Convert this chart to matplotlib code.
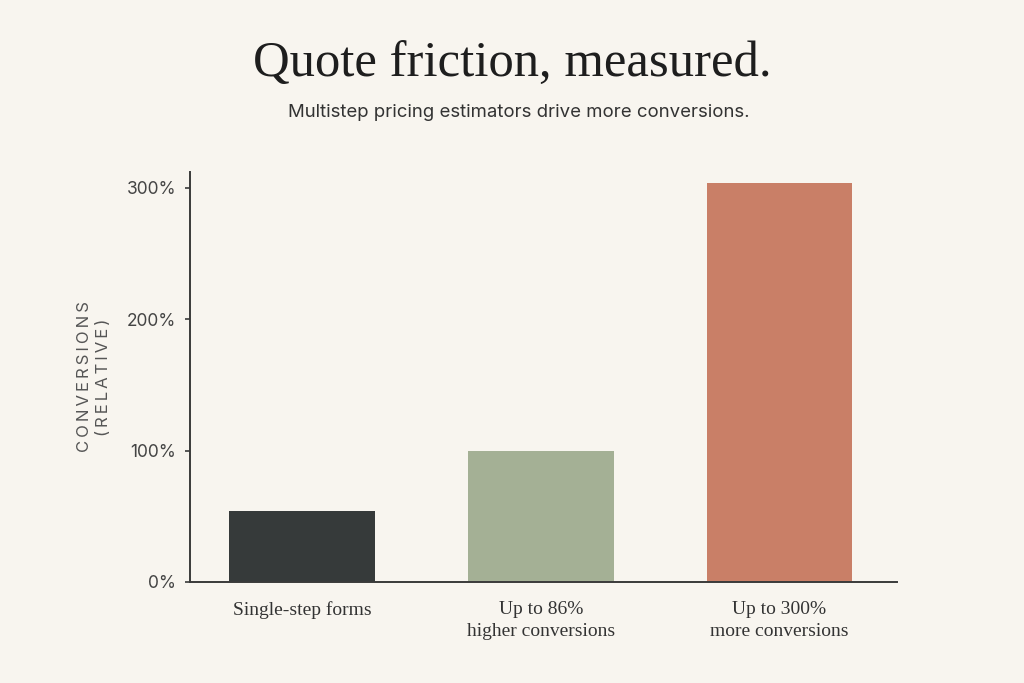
import matplotlib.pyplot as plt
from matplotlib.ticker import FuncFormatter

categories = ["Single-step forms", "Up to 86%\nhigher conversions", "Up to 300%\nmore conversions"]
values = [54, 100, 304]
colors = ["#363a3a", "#a4b095", "#c97f67"]
yticks = [0, 100, 200, 300]

bg = "#f8f5ef"


def spaced(s):
    # rough letter spacing with thin spaces
    return "\u2009".join(s)


fig = plt.figure(figsize=(10.24, 6.83), dpi=100, facecolor=bg)
ax = fig.add_axes([0.1855, 0.148, 0.690, 0.600], facecolor=bg)

x = range(len(values))
ax.bar(x, values, width=0.61, color=colors, zorder=2)

ax.set_xlim(-0.47, 2.49)
ax.set_ylim(0, 312)
ax.set_yticks(yticks)
ax.yaxis.set_major_formatter(FuncFormatter(lambda v, p: f"{v:.0f}%"))
ax.set_xticks(list(x))
ax.set_xticklabels(categories, family=["Liberation Serif"], fontsize=14, color="#333333",
                   linespacing=1.38, va="top")

for s in ["top", "right"]:
    ax.spines[s].set_visible(False)
for s in ["left", "bottom"]:
    ax.spines[s].set_color("#3a3a3a")
    ax.spines[s].set_linewidth(1.4)
ax.tick_params(axis="x", length=0, pad=14)
ax.tick_params(axis="y", length=3.5, width=1.2, color="#3a3a3a", pad=6.5,
               labelsize=12.5, labelcolor="#444444")
for lbl in ax.get_yticklabels():
    lbl.set_family(["Inter", "DejaVu Sans"])

ax.set_ylabel(spaced("CONVERSIONS") + "\n" + spaced("(RELATIVE)"),
              family=["Inter", "DejaVu Sans"], fontsize=12, color="#555555",
              labelpad=11, linespacing=1.35)

fig.text(0.5, 0.906, "Quote friction, measured.", ha="center", va="center",
         family=["Liberation Serif"], fontsize=36.5, color="#1e1e1e")
fig.text(0.507, 0.835, "Multistep pricing estimators drive more conversions.", ha="center",
         va="center", family=["Inter", "DejaVu Sans"], fontsize=13.4, color="#333333")

fig.savefig("out.png", dpi=100, facecolor=bg)
